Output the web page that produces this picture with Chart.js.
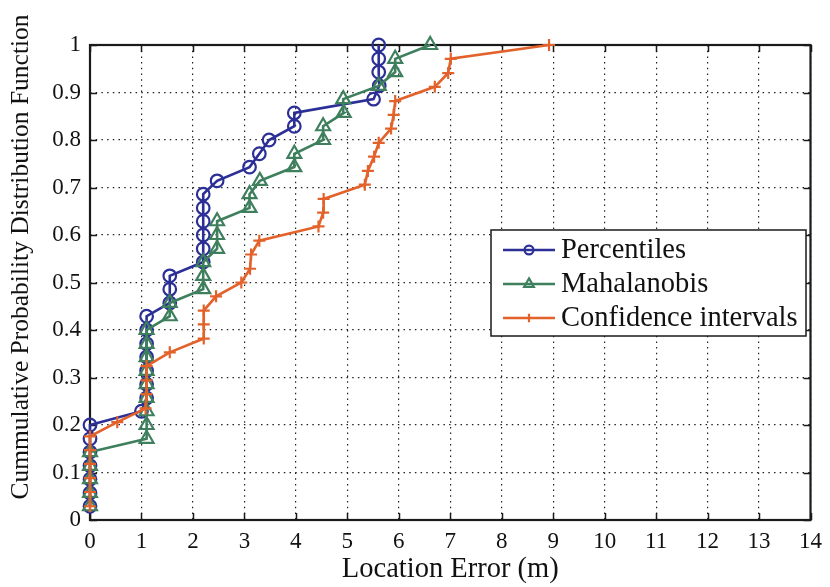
<!DOCTYPE html>
<html><head><meta charset="utf-8">
<script src="https://cdn.jsdelivr.net/npm/chart.js@4/dist/chart.umd.min.js"></script>
<style>html,body{margin:0;padding:0;background:#fff;}</style>
</head><body>
<canvas id="c" width="830" height="587"></canvas>
<script>
// ---- data ----
const seriesNames = ['Percentiles', 'Mahalanobis', 'Confidence intervals'];

const levels35 = [0.029, 0.057, 0.086, 0.114, 0.143, 0.171, 0.2, 0.229, 0.257, 0.286, 0.314, 0.343,
  0.371, 0.4, 0.429, 0.457, 0.486, 0.514, 0.543, 0.571, 0.6, 0.629, 0.657, 0.686, 0.714, 0.743,
  0.771, 0.8, 0.829, 0.857, 0.886, 0.914, 0.943, 0.971, 1.0];

const levels34 = [0.029, 0.059, 0.088, 0.118, 0.147, 0.176, 0.206, 0.235, 0.265, 0.294, 0.324,
  0.353, 0.382, 0.412, 0.441, 0.471, 0.5, 0.529, 0.559, 0.588, 0.618, 0.647, 0.676, 0.706, 0.735,
  0.765, 0.794, 0.824, 0.853, 0.882, 0.912, 0.941, 0.971, 1.0];

const percentilesX = [0, 0, 0, 0, 0, 0, 0, 1.0, 1.1, 1.1, 1.1, 1.1, 1.1, 1.1, 1.1, 1.55, 1.55, 1.55,
  2.2, 2.2, 2.2, 2.2, 2.2, 2.2, 2.47, 3.1, 3.29, 3.48, 3.97, 3.97, 5.51, 5.62, 5.61, 5.61, 5.61];

const mahalanobisX = [0, 0, 0, 0, 0, 1.1, 1.1, 1.1, 1.1, 1.1, 1.1, 1.1, 1.1, 1.1, 1.55, 1.55,
  2.2, 2.2, 2.2, 2.47, 2.47, 2.47, 3.1, 3.1, 3.3, 3.97, 3.97, 4.53, 4.53, 4.93, 4.92, 5.61,
  5.93, 5.93, 6.61];

const confidenceX = [0, 0, 0, 0, 0, 0, 0.53, 1.08, 1.1, 1.1, 1.1, 1.55, 2.21, 2.21, 2.21, 2.45,
  2.94, 3.11, 3.13, 3.29, 4.44, 4.53, 4.54, 5.34, 5.4, 5.52, 5.61, 5.85, 5.9, 5.93, 6.7, 6.96,
  7.01, 8.92];

const xTickLabels = ['0','1','2','3','4','5','6','7','8','9','10','11','12','13','14'];
const yTickLabels = ['0','0.1','0.2','0.3','0.4','0.5','0.6','0.7','0.8','0.9','1'];

const xTitle = 'Location Error (m)';
const yTitle = 'Cummulative Probability Distribution Function';

// ---- styling ----
const BLUE = '#2b2f96';
const GREEN = '#3e7f5d';
const ORANGE = '#e3622b';
const SERIF = '"Liberation Serif", "DejaVu Serif", serif';

function pairs(xs, ys) { return xs.map((x, i) => ({ x: x, y: ys[i] })); }

const framePlugin = {
  id: 'frame',
  beforeDatasetsDraw(chart) {
    const { ctx, chartArea: a, scales: { x, y } } = chart;
    ctx.save();
    ctx.strokeStyle = '#1a1a1a';
    ctx.lineWidth = 1.5;
    const L = 7;
    ctx.beginPath();
    x.ticks.forEach(t => {
      const px = Math.round(x.getPixelForValue(t.value)) + 0.5;
      ctx.moveTo(px, a.bottom); ctx.lineTo(px, a.bottom - L);
      ctx.moveTo(px, a.top); ctx.lineTo(px, a.top + L);
    });
    y.ticks.forEach(t => {
      const py = Math.round(y.getPixelForValue(t.value)) + 0.5;
      ctx.moveTo(a.left, py); ctx.lineTo(a.left + L, py);
      ctx.moveTo(a.right, py); ctx.lineTo(a.right - L, py);
    });
    ctx.stroke();
    ctx.lineWidth = 2.2;
    ctx.strokeRect(a.left, a.top, a.right - a.left, a.bottom - a.top);
    ctx.restore();
  },
  afterDraw(chart) {
    const { ctx } = chart;
    // y-axis title
    ctx.save();
    ctx.translate(21, 257);
    ctx.rotate(-Math.PI / 2);
    ctx.fillStyle = '#111';
    ctx.font = '25.5px ' + SERIF;
    ctx.textAlign = 'center';
    ctx.textBaseline = 'middle';
    ctx.fillText(yTitle, 0, 0);
    ctx.restore();
    // legend
    const box = { l: 491, t: 230, r: 806, b: 336 };
    ctx.save();
    ctx.fillStyle = '#fff';
    ctx.fillRect(box.l, box.t, box.r - box.l, box.b - box.t);
    ctx.strokeStyle = '#1a1a1a';
    ctx.lineWidth = 1.5;
    ctx.strokeRect(box.l, box.t, box.r - box.l, box.b - box.t);
    const rows = [250, 284, 318];
    chart.data.datasets.forEach((ds, i) => {
      const yy = rows[i];
      ctx.strokeStyle = ds.borderColor;
      ctx.lineWidth = ds.borderWidth;
      ctx.beginPath(); ctx.moveTo(503, yy); ctx.lineTo(555, yy); ctx.stroke();
      ctx.fillStyle = 'rgba(0,0,0,0)';
      ctx.lineWidth = ds.pointBorderWidth;
      Chart.helpers.drawPoint(ctx, {
        pointStyle: ds.pointStyle, rotation: 0, radius: ds.pointRadius * 0.7,
        borderWidth: ds.pointBorderWidth
      }, 529, yy);
      ctx.fillStyle = '#111';
      ctx.font = '28.5px ' + SERIF;
      ctx.textBaseline = 'middle';
      ctx.textAlign = 'left';
      ctx.fillText(ds.label, 561, yy + 1);
    });
    ctx.restore();
  }
};

const datasets = [
  { label: seriesNames[0], data: pairs(percentilesX, levels35), borderColor: BLUE,
    pointBorderColor: BLUE, pointBackgroundColor: 'rgba(0,0,0,0)', backgroundColor: 'rgba(0,0,0,0)',
    pointStyle: 'circle', pointRadius: 6.3, pointBorderWidth: 2.2, borderWidth: 2.6, order: 3 },
  { label: seriesNames[1], data: pairs(mahalanobisX, levels35), borderColor: GREEN,
    pointBorderColor: GREEN, pointBackgroundColor: 'rgba(0,0,0,0)', backgroundColor: 'rgba(0,0,0,0)',
    pointStyle: 'triangle', pointRadius: 8, pointBorderWidth: 2.2, borderWidth: 2.6, order: 2 },
  { label: seriesNames[2], data: pairs(confidenceX, levels34), borderColor: ORANGE,
    pointBorderColor: ORANGE, pointBackgroundColor: 'rgba(0,0,0,0)', backgroundColor: 'rgba(0,0,0,0)',
    pointStyle: 'cross', pointRadius: 6, pointBorderWidth: 2.2, borderWidth: 2.6, order: 1 }
];
datasets.forEach(d => { d.showLine = true; d.clip = false; d.tension = 0; });

new Chart(document.getElementById('c'), {
  type: 'scatter',
  data: { datasets: datasets },
  plugins: [framePlugin],
  options: {
    responsive: false,
    animation: false,
    devicePixelRatio: 1,
    layout: { padding: { left: 0, top: 45, right: 16, bottom: 0 } },
    plugins: { legend: { display: false }, tooltip: { enabled: false } },
    scales: {
      x: {
        type: 'linear', min: 0, max: 14,
        afterFit(s) { s.height = 67; },
        ticks: { stepSize: 1, padding: 8, color: '#111', font: { family: SERIF, size: 23 },
          maxRotation: 0, autoSkip: false,
          callback: (v, i) => xTickLabels[i] },
        grid: { color: '#222', lineWidth: 1.2, drawTicks: false },
        border: { display: false, dash: [1.5, 4.2] },
        title: { display: true, text: xTitle, color: '#111', font: { family: SERIF, size: 28.5 },
          padding: { top: 0, bottom: 0 } }
      },
      y: {
        type: 'linear', min: 0, max: 1,
        afterFit(s) { s.width = 90; },
        ticks: { stepSize: 0.1, padding: 9, color: '#111', font: { family: SERIF, size: 23 },
          autoSkip: false, callback: (v, i) => yTickLabels[i] },
        grid: { color: '#222', lineWidth: 1.2, drawTicks: false },
        border: { display: false, dash: [1.5, 4.2] },
        title: { display: false }
      }
    }
  }
});
</script>
</body></html>
